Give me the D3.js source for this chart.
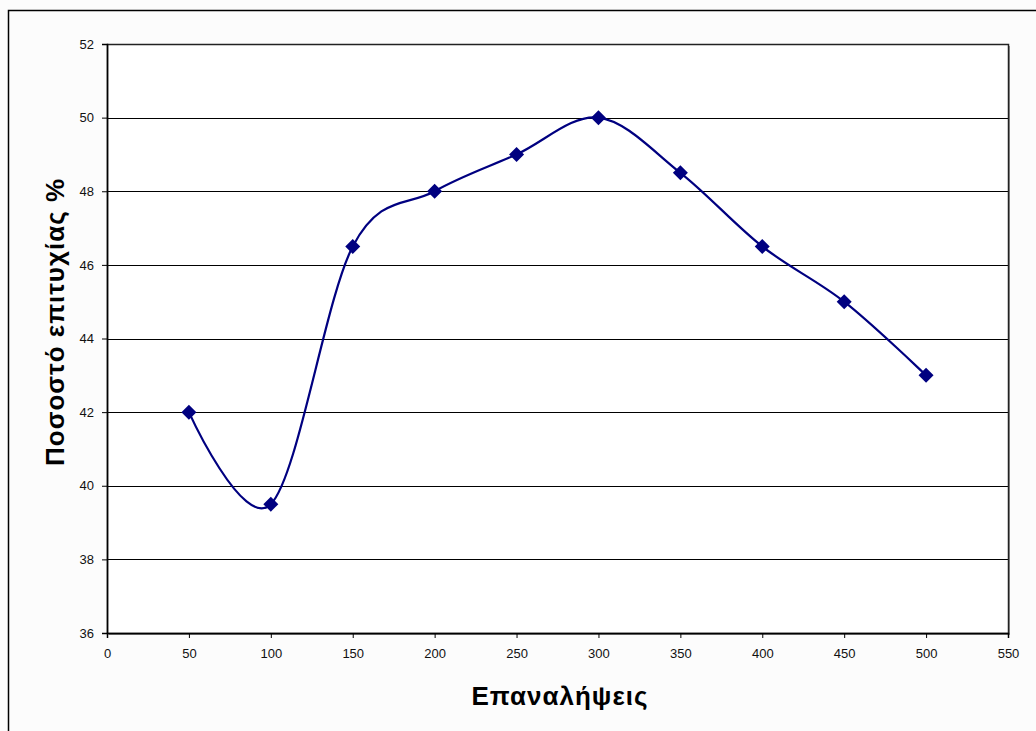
<!DOCTYPE html>
<html>
<head>
<meta charset="utf-8">
<script src="https://cdn.jsdelivr.net/npm/d3@7"></script>
<style>
  body { margin: 0; background: #fcfcfc; }
  .tick text { font-family: "Liberation Sans", Arial, sans-serif; font-size: 13px; fill: #111; }
  .title { font-family: "Liberation Sans", Arial, sans-serif; font-size: 26px; font-weight: bold; fill: #000; letter-spacing: 1px; }
</style>
</head>
<body>
<div id="chart"></div>
<script>
// data
var iterations = [50, 100, 150, 200, 250, 300, 350, 400, 450, 500];
var successRate = [42, 39.5, 46.5, 48, 49, 50, 48.5, 46.5, 45, 43];
var xTicks = [0, 50, 100, 150, 200, 250, 300, 350, 400, 450, 500, 550];
var yTicks = [36, 38, 40, 42, 44, 46, 48, 50, 52];

var outerWidth = 1036, outerHeight = 731;
var margin = {top: 44, right: 28, bottom: 98, left: 107},
    width = 1008 - margin.left,
    height = 633 - margin.top;

var svg = d3.select("#chart").append("svg")
    .attr("width", outerWidth)
    .attr("height", outerHeight);

// outer chart frame
svg.append("rect")
    .attr("x", 8.5).attr("y", 10.5)
    .attr("width", 1040).attr("height", 740)
    .attr("fill", "#fcfcfc")
    .attr("stroke", "#000").attr("stroke-width", 1.5);

var g = svg.append("g")
    .attr("transform", "translate(" + margin.left + "," + margin.top + ")");

var x = d3.scaleLinear().domain([0, 550]).range([0, width]);
var y = d3.scaleLinear().domain([36, 52]).range([height, 0]);

// plot background + shadow
g.append("rect")
    .attr("x", 2).attr("y", 2)
    .attr("width", width).attr("height", height)
    .attr("fill", "#999");
g.append("rect")
    .attr("width", width).attr("height", height)
    .attr("fill", "#fff");

// gridlines
g.selectAll(".grid")
    .data(yTicks.slice(1))
    .enter().append("line")
    .attr("class", "grid")
    .attr("x1", 0).attr("x2", width)
    .attr("y1", function (d) { return Math.round(y(d)) + 0.5; })
    .attr("y2", function (d) { return Math.round(y(d)) + 0.5; })
    .attr("stroke", "#000").attr("stroke-width", 1);

g.append("rect")
    .attr("x", 0.5).attr("y", 0.5)
    .attr("width", width).attr("height", height)
    .attr("fill", "none")
    .attr("stroke", "#222").attr("stroke-width", 1.5);

// axes
var xAxis = g.append("g")
    .attr("transform", "translate(0," + height + ")")
    .call(d3.axisBottom(x).tickValues(xTicks).tickSize(5).tickPadding(11));
var yAxis = g.append("g")
    .call(d3.axisLeft(y).tickValues(yTicks).tickSize(5).tickPadding(8));
[xAxis, yAxis].forEach(function (a) {
    a.select(".domain").attr("stroke", "#000").attr("stroke-width", 1.5);
    a.selectAll(".tick line").attr("stroke", "#000");
    a.attr("font-family", null).attr("font-size", null);
});

// line
var pts = iterations.map(function (d, i) { return [d, successRate[i]]; });
var line = d3.line()
    .x(function (d) { return x(d[0]); })
    .y(function (d) { return y(d[1]); })
    .curve(d3.curveCardinal.tension(0));

g.append("path")
    .datum(pts)
    .attr("d", line)
    .attr("fill", "none")
    .attr("stroke", "#000080")
    .attr("stroke-width", 2.2);

// markers
g.selectAll(".pt")
    .data(pts)
    .enter().append("path")
    .attr("class", "pt")
    .attr("transform", function (d) { return "translate(" + x(d[0]) + "," + y(d[1]) + ")"; })
    .attr("d", "M0,-7.5L7.5,0L0,7.5L-7.5,0Z")
    .attr("fill", "#000080");

// titles
svg.append("text")
    .attr("class", "title")
    .attr("x", 560).attr("y", 705)
    .attr("text-anchor", "middle")
    .text("Επαναλήψεις");

svg.append("text")
    .attr("class", "title")
    .attr("transform", "translate(64,322) rotate(-90)")
    .attr("text-anchor", "middle")
    .text("Ποσοστό επιτυχίας %");
</script>
</body>
</html>
